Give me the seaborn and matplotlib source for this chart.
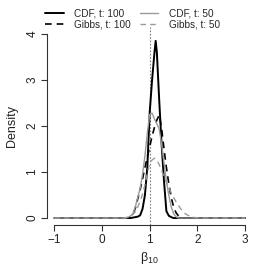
import numpy as np
import pandas as pd
import matplotlib
matplotlib.use("Agg")
import matplotlib.pyplot as plt
import seaborn as sns
from matplotlib.lines import Line2D

# evaluation grid (beta_10)
x_grid = [-1.0, 0.45, 0.5, 0.55, 0.6, 0.65, 0.7, 0.75, 0.8, 0.85, 0.9, 0.95,
          1.0, 1.05, 1.1, 1.125, 1.15, 1.2, 1.25, 1.3, 1.35, 1.4, 1.45, 1.5,
          1.55, 1.6, 1.65, 1.7, 1.75, 1.8, 1.85, 1.9, 1.95, 2.0, 2.05, 3.0]

cdf_t100 = [0, 0, 0, 0, 0, 0.01, 0.02, 0.03, 0.06, 0.2, 0.5, 1.1,
            2.3, 3.0, 3.6, 3.85, 3.6, 2.55, 1.6, 0.8, 0.15, 0.05, 0.02, 0,
            0, 0, 0, 0, 0, 0, 0, 0, 0, 0, 0, 0]

gibbs_t100 = [0, 0, 0, 0, 0.02, 0.08, 0.22, 0.42, 0.62, 0.85, 1.1, 1.32,
              1.55, 1.78, 1.97, 2.05, 2.13, 2.24, 1.95, 1.5, 1.1, 0.75, 0.45, 0.25,
              0.12, 0.05, 0.01, 0, 0, 0, 0, 0, 0, 0, 0, 0]

cdf_t50 = [0, 0, 0, 0.02, 0.05, 0.1, 0.25, 0.45, 0.65, 0.95, 1.35, 1.85,
           2.25, 2.28, 2.15, 2.1, 2.05, 1.93, 1.6, 1.2, 0.8, 0.5, 0.25, 0.1,
           0.03, 0, 0, 0, 0, 0, 0, 0, 0, 0, 0, 0]

gibbs_t50 = [0, 0, 0.01, 0.02, 0.04, 0.08, 0.14, 0.24, 0.37, 0.52, 0.72, 0.97,
             1.2, 1.26, 1.3, 1.29, 1.26, 1.16, 1.03, 0.9, 0.78, 0.66, 0.55, 0.45,
             0.36, 0.28, 0.2, 0.14, 0.09, 0.06, 0.04, 0.02, 0.01, 0.005, 0, 0]

series = ["CDF, t: 100", "Gibbs, t: 100", "CDF, t: 50", "Gibbs, t: 50"]
values = [cdf_t100, gibbs_t100, cdf_t50, gibbs_t50]

x_ticks = [-1, 0, 1, 2, 3]
x_tick_labels = ["\u22121", "0", "1", "2", "3"]
y_ticks = [0, 1, 2, 3, 4]

df = pd.concat([pd.DataFrame({"beta": x_grid, "Density": v, "series": s})
                for s, v in zip(series, values)], ignore_index=True)

sns.set_style("ticks")
plt.rcParams["font.family"] = ["Liberation Sans", "DejaVu Sans"]
plt.rcParams["mathtext.fontset"] = "custom"
plt.rcParams["mathtext.rm"] = "Liberation Sans"
plt.rcParams["mathtext.it"] = "Liberation Sans"

fig = plt.figure(figsize=(2.66, 2.66), dpi=100)
ax = fig.add_axes([46.7 / 266, 1 - 225.4 / 266, 206 / 266, (225.4 - 26.6) / 266])

palette = {"CDF, t: 100": "black", "Gibbs, t: 100": "black",
           "CDF, t: 50": "#9a9a9a", "Gibbs, t: 50": "#9a9a9a"}
dashes = {"CDF, t: 100": "", "Gibbs, t: 100": (4, 3),
          "CDF, t: 50": "", "Gibbs, t: 50": (4, 3)}
sizes = {"CDF, t: 100": 1.4, "Gibbs, t: 100": 1.2,
         "CDF, t: 50": 1.0, "Gibbs, t: 50": 1.0}

ax.axvline(1, color="#808080", ls=(0, (1.5, 1.5)), lw=0.8, zorder=1)

sns.lineplot(data=df, x="beta", y="Density", hue="series", style="series",
             size="series", hue_order=series, style_order=series, size_order=series,
             palette=palette, dashes=dashes, sizes=sizes, ax=ax, legend=False,
             estimator=None, sort=False)

ax.set_xlim(-1.16, 3.16)
ax.set_ylim(-0.16, 4.16)
ax.set_xticks(x_ticks)
ax.set_yticks(y_ticks)
ax.set_xticklabels(x_tick_labels)
sns.despine(ax=ax)
ax.spines["left"].set_bounds(0, 4)
ax.spines["bottom"].set_bounds(-1, 3)
for sp in ["left", "bottom"]:
    ax.spines[sp].set_linewidth(0.8)
    ax.spines[sp].set_color("#333333")
ax.tick_params(length=4, width=0.8, color="#333333", labelsize=8.5, pad=2,
               labelcolor="#222222")
for lab in ax.get_yticklabels():
    lab.set_rotation(90)
    lab.set_va("center")
ax.set_xlabel("\u03b2$_{10}$", fontsize=9, labelpad=3, color="#222222")
ax.set_ylabel("Density", fontsize=9, labelpad=6, color="#222222")

handles = [Line2D([], [], color=palette[s], lw=sizes[s],
                  ls="-" if dashes[s] == "" else (0, dashes[s])) for s in series]
fig.legend(handles, series, loc="upper left", ncol=2, frameon=False,
           bbox_to_anchor=(45 / 266, 1 - 8 / 266), fontsize=7.2,
           handlelength=1.85, handletextpad=1.1, columnspacing=0.85,
           labelspacing=0.15, borderpad=0, borderaxespad=0)

fig.savefig("out.png", dpi=100)
